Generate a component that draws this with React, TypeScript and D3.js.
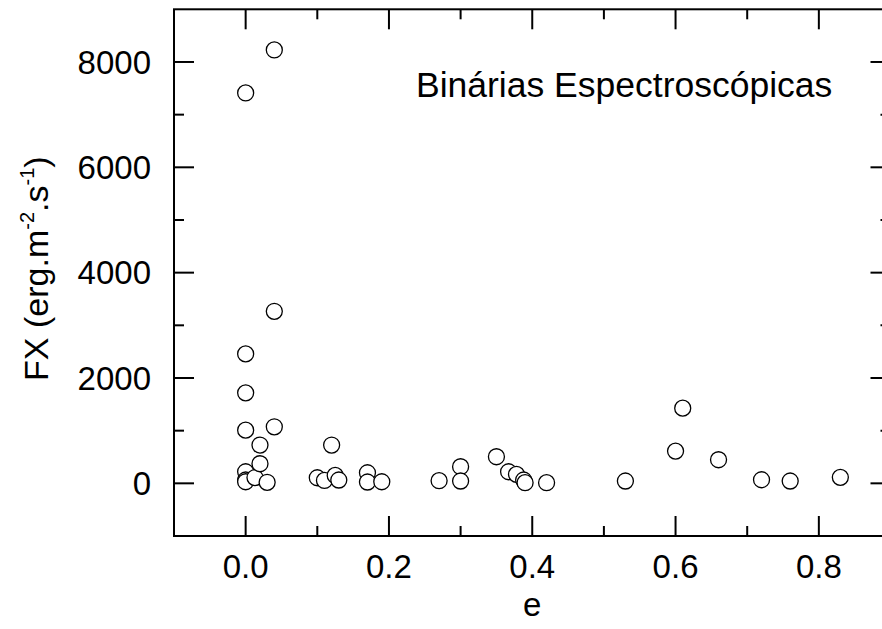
import React from "react";
import * as d3 from "d3";

const eccentricity = [
  0, 0, 0, 0, 0, 0, 0, 0.013, 0.02, 0.02, 0.03, 0.04, 0.04, 0.04,
  0.1, 0.11, 0.12, 0.125, 0.13, 0.17, 0.17, 0.19,
  0.27, 0.3, 0.3, 0.35, 0.367, 0.378, 0.388, 0.39, 0.42,
  0.53, 0.6, 0.61, 0.66, 0.72, 0.76, 0.83,
];
const fluxX = [
  7412, 2457, 1718, 1010, 220, 63, 30, 110, 727, 372, 20, 8228, 3266, 1073,
  106, 55, 727, 150, 63, 201, 25, 30,
  50, 315, 44, 505, 220, 171, 63, 12, 12,
  44, 612, 1427, 448, 68, 44, 114,
];

const xMajor = [0, 0.2, 0.4, 0.6, 0.8];
const xMinor = [0.1, 0.3, 0.5, 0.7];
const yMajor = [0, 2000, 4000, 6000, 8000];
const yMinor = [1000, 3000, 5000, 7000];
const xTickLabels = ["0.0", "0.2", "0.4", "0.6", "0.8"];
const yTickLabels = ["0", "2000", "4000", "6000", "8000"];

const W = 882;
const H = 629;
const L = 174;
const R = 890.5;
const T = 9.3;
const B = 536;
const FONT = "'Liberation Sans', Arial, Helvetica, sans-serif";
const FS = 33;

export default function App() {
  const x = d3.scaleLinear().domain([-0.1, 0.9]).range([L, R]);
  const y = d3.scaleLinear().domain([-1000, 9000]).range([B, T]);
  const MAJ = 20;
  const MIN = 10;
  const sw = 2;

  return (
    <svg
      width={W}
      height={H}
      style={{ position: "absolute", left: 0, top: 0, background: "#fff" }}
      fontFamily={FONT}
    >
      <rect x={0} y={0} width={W} height={H} fill="#fff" />
      {eccentricity.map((e, i) => (
        <circle
          key={i}
          cx={x(e)}
          cy={y(fluxX[i])}
          r={8}
          fill="#fff"
          stroke="#000"
          strokeWidth={1.3}
        />
      ))}
      <rect x={L} y={T} width={R - L} height={B - T} fill="none" stroke="#000" strokeWidth={sw} />
      {xMajor.map((v) => (
        <g key={"xM" + v}>
          <line x1={x(v)} x2={x(v)} y1={B} y2={B - MAJ} stroke="#000" strokeWidth={sw} />
          <line x1={x(v)} x2={x(v)} y1={T} y2={T + MAJ} stroke="#000" strokeWidth={sw} />
        </g>
      ))}
      {xMinor.map((v) => (
        <g key={"xm" + v}>
          <line x1={x(v)} x2={x(v)} y1={B} y2={B - MIN} stroke="#000" strokeWidth={sw} />
          <line x1={x(v)} x2={x(v)} y1={T} y2={T + MIN} stroke="#000" strokeWidth={sw} />
        </g>
      ))}
      {yMajor.map((v) => (
        <g key={"yM" + v}>
          <line x1={L} x2={L + MAJ} y1={y(v)} y2={y(v)} stroke="#000" strokeWidth={sw} />
          <line x1={R} x2={R - MAJ} y1={y(v)} y2={y(v)} stroke="#000" strokeWidth={sw} />
        </g>
      ))}
      {yMinor.map((v) => (
        <g key={"ym" + v}>
          <line x1={L} x2={L + MIN} y1={y(v)} y2={y(v)} stroke="#000" strokeWidth={sw} />
          <line x1={R} x2={R - MIN} y1={y(v)} y2={y(v)} stroke="#000" strokeWidth={sw} />
        </g>
      ))}
      {xMajor.map((v, i) => (
        <text key={"xl" + v} x={x(v)} y={578} textAnchor="middle" fontSize={FS} fill="#000">
          {xTickLabels[i]}
        </text>
      ))}
      {yMajor.map((v, i) => (
        <text
          key={"yl" + v}
          x={151}
          y={y(v)}
          dy="0.35em"
          textAnchor="end"
          fontSize={FS}
          fill="#000"
        >
          {yTickLabels[i]}
        </text>
      ))}
      <text x={(L + R) / 2} y={616} textAnchor="middle" fontSize={FS} fill="#000">
        e
      </text>
      <text
        transform={`translate(48, ${(T + B) / 2 - 4}) rotate(-90)`}
        textAnchor="middle"
        fontSize={34}
        fill="#000"
      >
        <tspan>FX (erg.m</tspan>
        <tspan fontSize={20} dy={-14}>-2</tspan>
        <tspan dy={14}>.s</tspan>
        <tspan fontSize={20} dy={-14}>-1</tspan>
        <tspan dy={14}>)</tspan>
      </text>
      <text x={416} y={97} fontSize={35.5} fill="#000">
        Binárias Espectroscópicas
      </text>
    </svg>
  );
}
